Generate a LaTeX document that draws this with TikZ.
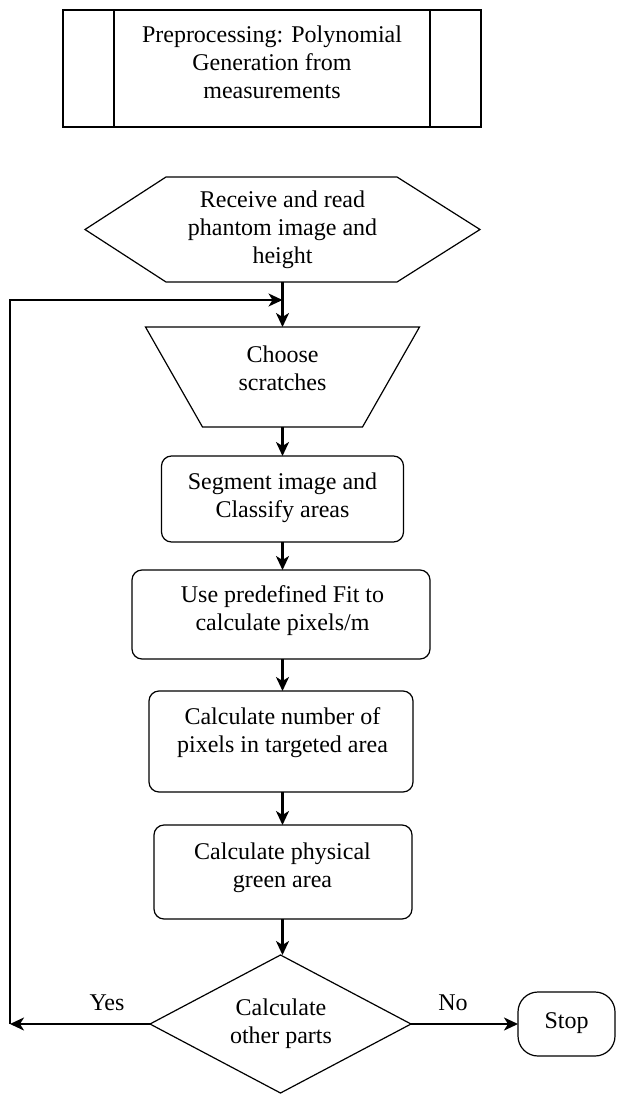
\documentclass[tikz,border=0pt]{standalone}
\usepackage{fontspec}
\setmainfont{Liberation Serif}
\usetikzlibrary{arrows.meta}
\begin{document}
\begin{tikzpicture}[x=1pt,y=-1pt,
  every node/.style={font=\fontsize{24}{28}\selectfont},
  outline/.style={line width=1.2pt, line join=miter},
  ghost/.style={inner sep=0pt, outer sep=0pt},
  box/.style={draw, outline, rounded corners=10pt, inner sep=0pt, outer sep=0pt},
  txt/.style={align=center, inner sep=0pt},
  arr/.style={line width=2.2pt, -{Stealth[length=14pt,width=13pt,inset=4pt]}},
  thinarr/.style={line width=1.5pt, -{Stealth[length=14pt,width=13pt,inset=4pt]}}]
\useasboundingbox (0,0) rectangle (616,1094);

% predefined process
\node[draw, outline, ghost, minimum width=418pt, minimum height=117pt] (pre) at (272,68.5) {};
\draw[outline] ([xshift=51pt]pre.north west) -- ([xshift=51pt]pre.south west);
\draw[outline] ([xshift=-51pt]pre.north east) -- ([xshift=-51pt]pre.south east);
\node[txt] (preT) at (272,62) {Preprocessing: Polynomial\\Generation from\\measurements};

% hexagon
\node[ghost, minimum width=395pt, minimum height=105pt] (hex) at (282.5,229.5) {};
\draw[outline] (hex.west) -- ([xshift=81pt]hex.north west) -- ([xshift=-83pt]hex.north east)
  -- (hex.east) -- ([xshift=-83pt]hex.south east) -- ([xshift=81pt]hex.south west) -- cycle;
\node[txt] (hexT) at (282.5,230) {Receive and read\\phantom image and\\height};

% trapezoid
\node[ghost, minimum width=274pt, minimum height=100pt] (trap) at (282.5,377) {};
\draw[outline] (trap.north west) -- (trap.north east) -- ([xshift=-57pt]trap.south east)
  -- ([xshift=57pt]trap.south west) -- cycle;
\node[txt] (trapT) at (282.5,368) {Choose\\scratches};

% process boxes
\node[box, minimum width=242pt, minimum height=86pt] (seg) at (282.5,499) {};
\node[txt] (segT) at (282.5,497.5) {Segment image and\\Classify areas};

\node[box, minimum width=298pt, minimum height=89pt] (fit) at (281,614.5) {};
\node[txt] (fitT) at (282.5,611) {Use predefined Fit to\\calculate pixels/m};

\node[box, minimum width=264pt, minimum height=101pt] (num) at (281,741.5) {};
\node[txt] (numT) at (282.5,733) {Calculate number of\\pixels in targeted area};

\node[box, minimum width=258pt, minimum height=94pt] (green) at (283,872) {};
\node[txt] (greenT) at (282.5,867.5) {Calculate physical\\green area};

% decision
\node[ghost, minimum width=261pt, minimum height=138pt] (dia) at (280.5,1024) {};
\draw[outline] (dia.north) -- (dia.east) -- (dia.south) -- (dia.west) -- cycle;
\node[txt] (diaT) at (281,1024) {Calculate\\other parts};

% stop
\node[box, rounded corners=20pt, minimum width=97pt, minimum height=64pt] (stop) at (566.5,1024) {};
\node[txt] (stopT) at (566.5,1023) {Stop};

% connectors
\draw[arr] (hex.south) -- (hex.south |- trap.north);
\draw[arr] (trap.south) -- (trap.south |- seg.north);
\draw[arr] (seg.south) -- (seg.south |- fit.north);
\draw[arr] (seg.south |- fit.south) -- (seg.south |- num.north);
\draw[arr] (seg.south |- num.south) -- (seg.south |- green.north);
\draw[arr] (seg.south |- green.south) -- (seg.south |- dia.north);
\draw[arr] (dia.east) -- (stop.west);

\coordinate (yesEnd) at (10,1024);
\coordinate (loopTop) at (10,300);
\coordinate (join) at (282.5,300);
\draw[arr] (dia.west) -- (yesEnd);
\draw[thinarr] (yesEnd) -- (loopTop) -- (join);

\node (yes) at (107,1003) {Yes};
\node (no) at (453,1003) {No};
\end{tikzpicture}
\end{document}
